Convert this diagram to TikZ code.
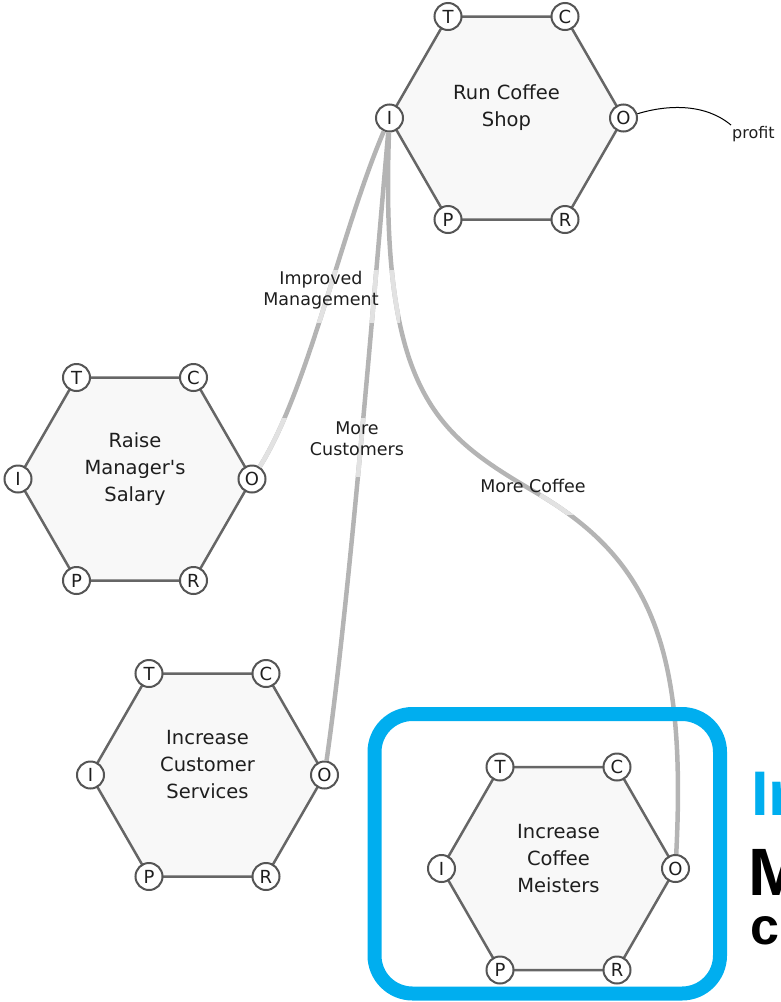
\documentclass[tikz,border=0pt]{standalone}
\usepackage{fontspec}
\setmainfont{DejaVu Sans}
\newfontfamily\headfont{Liberation Sans}
\usetikzlibrary{calc}

\definecolor{hexfill}{HTML}{F8F8F8}
\definecolor{hexline}{HTML}{666666}
\definecolor{portline}{HTML}{555555}
\definecolor{inkgray}{HTML}{1E1E1E}
\definecolor{flowgray}{HTML}{B4B4B4}
\definecolor{fadegray}{HTML}{E2E2E2}
\definecolor{focusblue}{HTML}{00AEEF}

% one activity hexagon with its six ports T C O R P I
\newcommand\tcorhex[4]{%
  \coordinate (#1) at (#2,#3);
  \filldraw[hexbody] ($(#1)+(-58.5,-101.5)$) -- ($(#1)+(58.5,-101.5)$)
    -- ($(#1)+(117,0)$) -- ($(#1)+(58.5,101.5)$)
    -- ($(#1)+(-58.5,101.5)$) -- ($(#1)+(-117,0)$) -- cycle;
  \node[hexlabel] (#1-label) at ($(#1)+(0,-10)$) {#4};
  \node[port] (#1-T) at ($(#1)+(-58.5,-101.5)$) {T};
  \node[port] (#1-C) at ($(#1)+(58.5,-101.5)$) {C};
  \node[port] (#1-O) at ($(#1)+(117,0)$) {O};
  \node[port] (#1-R) at ($(#1)+(58.5,101.5)$) {R};
  \node[port] (#1-P) at ($(#1)+(-58.5,101.5)$) {P};
  \node[port] (#1-I) at ($(#1)+(-117,0)$) {I};
}

\begin{document}
\begin{tikzpicture}[x=1pt,y=-1pt,
  hexbody/.style={fill=hexfill, draw=hexline, line width=2.5pt, line join=round},
  port/.style={circle, draw=portline, line width=2pt, fill=white,
    minimum size=27pt, inner sep=0pt, text=inkgray,
    font=\fontsize{18}{18}\selectfont},
  hexlabel/.style={align=center, text=inkgray, font=\fontsize{19.5}{27}\selectfont},
  flowlabel/.style={align=center, text=inkgray, font=\fontsize{17.5}{21}\selectfont},
  flow/.style={draw=flowgray, line width=4.5pt},
  flowfade/.style={draw=fadegray, line width=4.5pt},
  profitline/.style={draw=black, line width=1pt},
  focus/.style={draw=focusblue, line width=14pt, rounded corners=38pt},
  headline/.style={anchor=base west, inner sep=0pt, text depth=0pt}
]
\useasboundingbox (0,0) rectangle (780,1002);
\clip (0,0) rectangle (780,1002);

% activities
\tcorhex{shop}{506.5}{118}{Run Coffee\\Shop}
\tcorhex{salary}{135}{479}{Raise\\Manager\textquotesingle s\\Salary}
\tcorhex{service}{207.5}{775}{Increase\\Customer\\Services}
\tcorhex{meister}{558.5}{868.5}{Increase\\Coffee\\Meisters}

\coordinate (coffeeBend) at (540,495);

% flows into the input of the coffee shop
\draw[flow] (shop-I) .. controls +(-48,112) and +(56,-89) .. (salary-O);
\draw[flow] (shop-I) .. controls +(-16,182) and +(25,-175) .. (service-O);
\draw[flow] (shop-I) .. controls +(-10,282) and (440,436) .. (coffeeBend)
  .. controls (652,562) and +(11,-218) .. (meister-O);

% faded stretches of the flows
\begin{scope}
  \clip (295,270) rectangle (400,322);
  \draw[flowfade] (shop-I) .. controls +(-48,112) and +(56,-89) .. (salary-O);
  \draw[flowfade] (shop-I) .. controls +(-16,182) and +(25,-175) .. (service-O);
  \draw[flowfade] (shop-I) .. controls +(-10,282) and (440,436) .. (coffeeBend);
\end{scope}
\begin{scope}
  \clip (250,418) rectangle (380,476);
  \draw[flowfade] (shop-I) .. controls +(-48,112) and +(56,-89) .. (salary-O);
  \draw[flowfade] (shop-I) .. controls +(-16,182) and +(25,-175) .. (service-O);
\end{scope}
\begin{scope}
  \clip (505,489) rectangle (585,514);
  \draw[flowfade] (coffeeBend) .. controls (652,562) and +(11,-218) .. (meister-O);
\end{scope}

% flow labels
\node[flowlabel] (lblMgmt) at (321,290) {Improved\\Management};
\node[flowlabel] (lblCust) at (357,439) {More\\Customers};
\node[flowlabel] (lblCoffee) at (533,486) {More Coffee};

% output of the coffee shop
\node[anchor=west, inner sep=1pt, text=inkgray,
  font=\fontsize{16}{16}\selectfont] (profit) at (731,134) {profit};
\draw[profitline] (shop-O) .. controls +(46,-14) and +(-25,-21) .. (profit.north west);

% highlighted activity and its heading
\draw[focus] (374.5,714) rectangle (720,993.5);
\node[headline, text=focusblue, font=\headfont\bfseries\fontsize{63}{63}\selectfont]
  (headTitle) at (751,815) {Increase};
\node[headline, text=black, font=\headfont\bfseries\fontsize{67}{67}\selectfont]
  (headName) at (748,895) {Meisters};
\node[headline, text=black, font=\headfont\bfseries\fontsize{52}{52}\selectfont]
  (headNote) at (750,944) {coffee};
\end{tikzpicture}
\end{document}
